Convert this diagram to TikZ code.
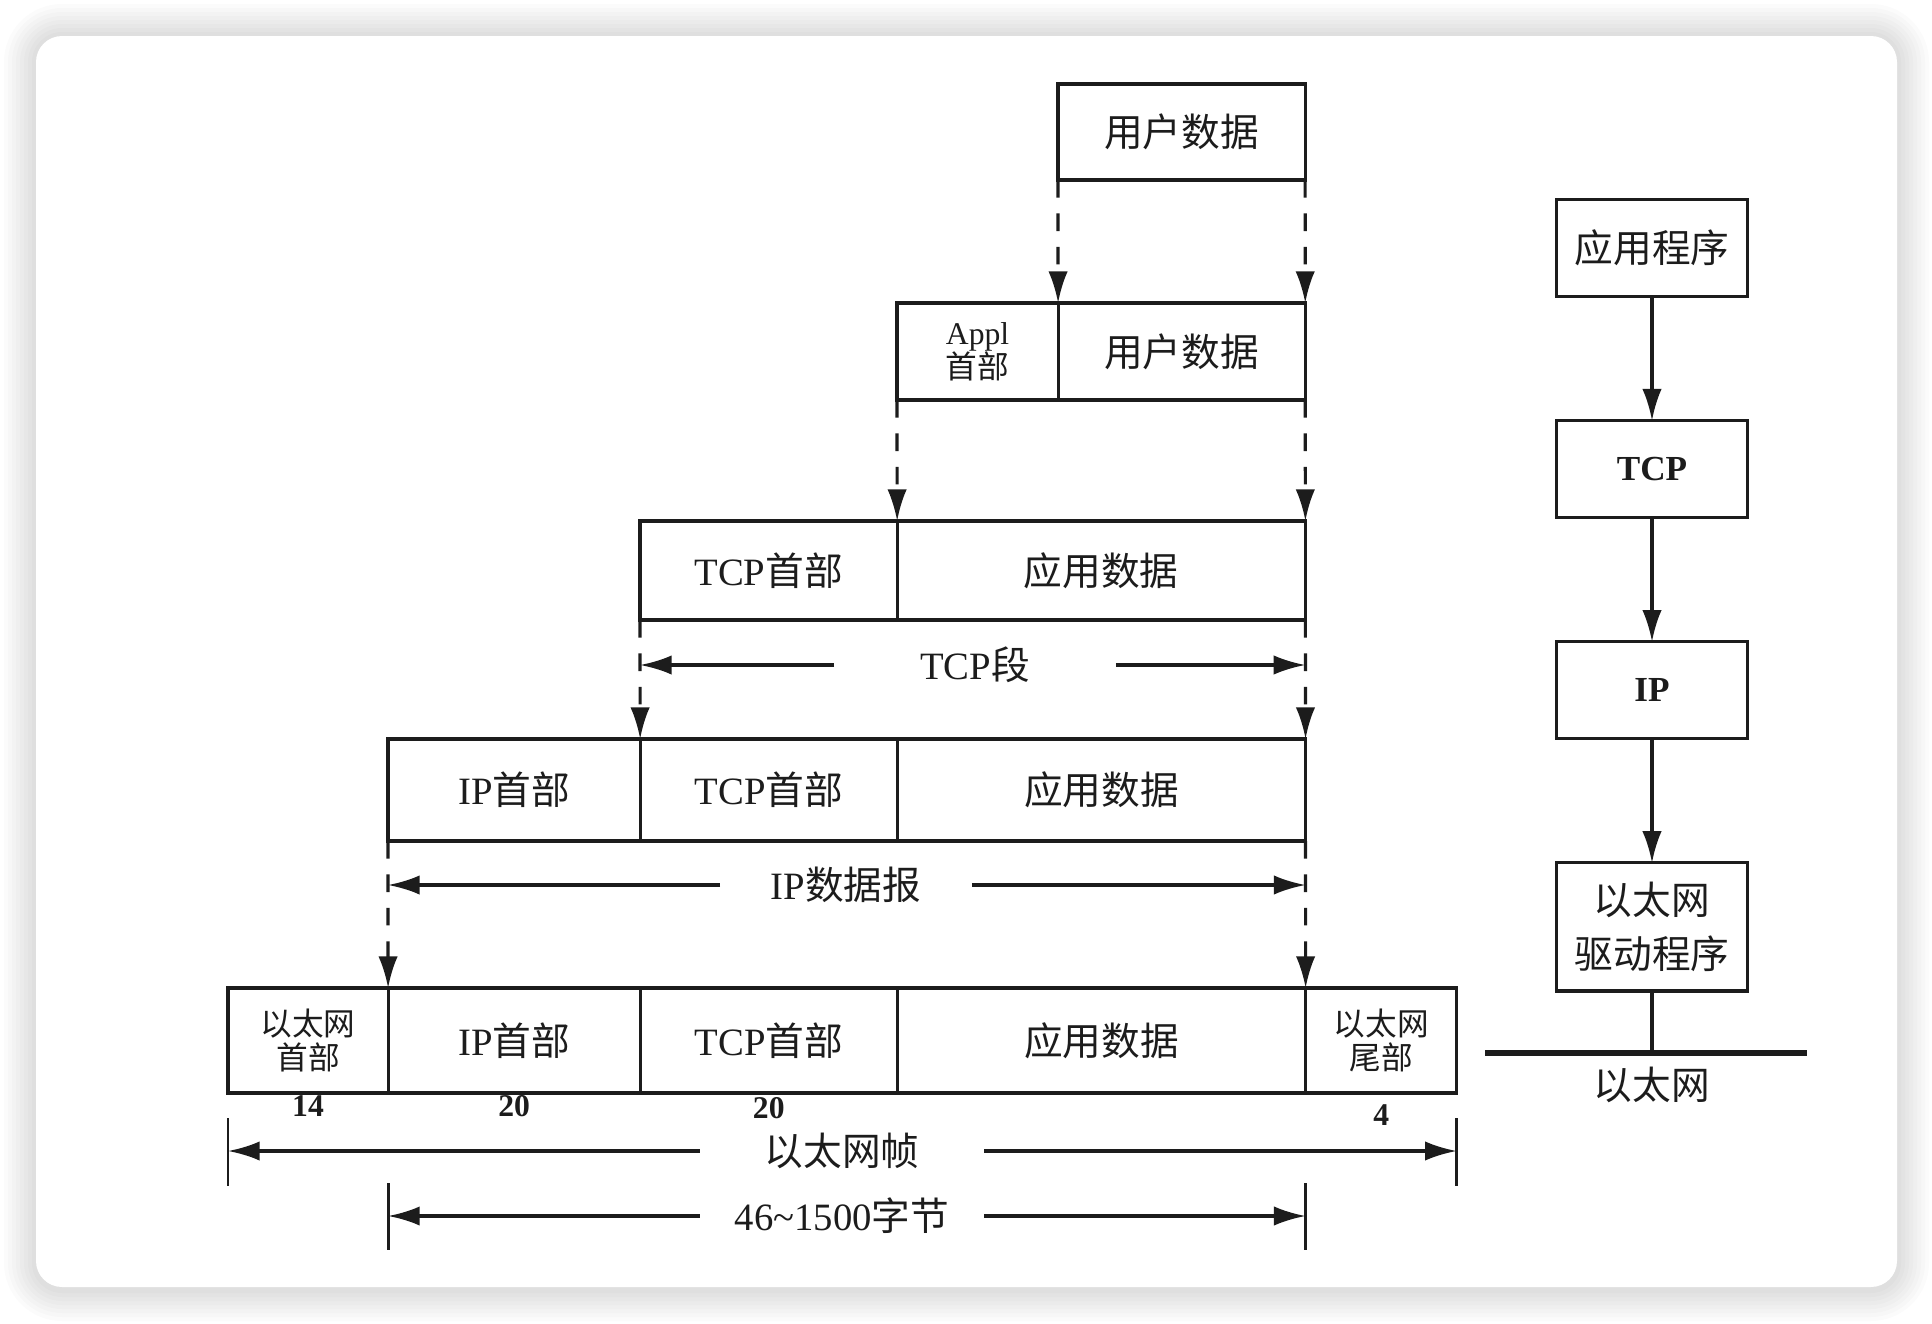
\documentclass[tikz,border=0pt]{standalone}
\usepackage{fontspec}
\setmainfont{Liberation Serif}
\newfontfamily\cjkfont{Noto Sans CJK SC}
\newcommand{\zh}[1]{{\cjkfont #1}}
\usetikzlibrary{arrows.meta, positioning, calc}
\definecolor{InkBlack}{RGB}{ 28, 28, 28}
\definecolor{PageBg}  {RGB}{255,255,255}
\tikzset{
  % One field of a packet row
  pktfield/.style={
    rectangle, draw=InkBlack, line width=0.9pt,
    font=\fontsize{11}{13}\selectfont, text=InkBlack,
    inner sep=1pt, outer sep=0pt, minimum height=0.97cm,
    align=center
  },
  % Two-line narrow field
  smallfont/.style={font=\fontsize{9}{9.6}\selectfont},
  % Protocol layer box (right column)
  layerbox/.style={
    rectangle, draw=InkBlack, line width=0.9pt,
    font=\fontsize{11}{15.5}\selectfont, text=InkBlack,
    inner sep=2pt, outer sep=0pt,
    minimum width=1.91cm, minimum height=0.97cm, align=center
  },
  % Encapsulation arrows
  dasharrow/.style={
    -{Latex[length=9pt,width=5.5pt]}, dash pattern=on 5pt off 4.5pt,
    line width=0.9pt, color=InkBlack
  },
  % Length arrows
  dimarrow/.style={
    -{Latex[length=9pt,width=5.5pt]}, line width=0.9pt, color=InkBlack
  },
  dimlabel/.style={
    font=\fontsize{11}{13}\selectfont, text=InkBlack,
    inner sep=0pt, minimum height=0.4cm
  },
  sizenum/.style={
    font=\bfseries\fontsize{9}{9}\selectfont, text=InkBlack, inner sep=0pt
  },
  tickline/.style={line width=0.8pt, color=InkBlack},
  layerarrow/.style={
    -{Latex[length=9pt,width=5.5pt]}, line width=0.9pt, color=InkBlack
  },
  ethline/.style={line width=1.8pt, color=InkBlack}
}
\newcommand{\Cell}[4]{
  \node[pktfield, minimum width=#2, #4] (#1) {#3};
}

\begin{document}
\begin{tikzpicture}[x=0.01cm, y=-0.01cm]

  % ── Page and card ─────────────────────────────────────────────────────────
  \useasboundingbox (0,0) rectangle (1932,1324);
  \fill[PageBg] (0,0) rectangle (1932,1324);
  \foreach \d in {4,8,...,32} {
    \pgfmathsetmacro\rr{0.26+0.01*\d}
    \fill[black, fill opacity=0.016, rounded corners=\rr cm]
      ({36-\d},{36-\d}) rectangle ({1897+\d},{1289+\d});
  }
  \fill[white, rounded corners=0.26cm] (36,36) rectangle (1897,1287);

  % ── Row 1: user data ──────────────────────────────────────────────────────
  \Cell{usr}{2.47cm}{\zh{用户数据}}{anchor=north west, at={(1058,84)}, minimum height=0.96cm}

  % ── Row 2: application ────────────────────────────────────────────────────
  \Cell{applh}{1.61cm}{Appl\\\zh{首部}}{smallfont, anchor=north west, at={(897,303)}}
  \Cell{appld}{2.47cm}{\zh{用户数据}}{right=0pt of applh}

  % ── Row 3: TCP segment ────────────────────────────────────────────────────
  \Cell{tcph}{2.57cm}{TCP\zh{首部}}{anchor=north west, at={(640,521)}, minimum height=0.99cm}
  \Cell{tcpd}{4.08cm}{\zh{应用数据}}{right=0pt of tcph, minimum height=0.99cm}

  % ── Row 4: IP datagram ────────────────────────────────────────────────────
  \Cell{iph}{2.52cm}{IP\zh{首部}}{anchor=north west, at={(388,739)}, minimum height=1.02cm}
  \Cell{iptcp}{2.57cm}{TCP\zh{首部}}{right=0pt of iph, minimum height=1.02cm}
  \Cell{ipd}{4.08cm}{\zh{应用数据}}{right=0pt of iptcp, minimum height=1.02cm}

  % ── Row 5: Ethernet frame ─────────────────────────────────────────────────
  \Cell{ethh}{1.60cm}{\zh{以太网}\\\zh{首部}}{smallfont, anchor=north west, at={(228,988)}, minimum height=1.05cm}
  \Cell{ethip}{2.52cm}{IP\zh{首部}}{right=0pt of ethh, minimum height=1.05cm}
  \Cell{ethtcp}{2.57cm}{TCP\zh{首部}}{right=0pt of ethip, minimum height=1.05cm}
  \Cell{ethd}{4.08cm}{\zh{应用数据}}{right=0pt of ethtcp, minimum height=1.05cm}
  \Cell{etht}{1.51cm}{\zh{以太网}\\\zh{尾部}}{smallfont, right=0pt of ethd, minimum height=1.05cm}

  % field sizes
  \node[sizenum, below=0.5pt of ethh] (n14) {14};
  \node[sizenum, below=0.5pt of ethip] (n20a) {20};
  \node[sizenum, below=1pt of ethtcp] (n20b) {20};
  \node[sizenum, below=3pt of etht] (n4) {4};

  % ── Encapsulation arrows ──────────────────────────────────────────────────
  \draw[dasharrow] (usr.south west) -- (appld.north west);
  \draw[dasharrow] (usr.south east) -- (appld.north east);
  \draw[dasharrow] (applh.south west) -- (tcpd.north west);
  \draw[dasharrow] (appld.south east) -- (tcpd.north east);
  \draw[dasharrow] (tcph.south west) -- (iptcp.north west);
  \draw[dasharrow] (tcpd.south east) -- (ipd.north east);
  \draw[dasharrow] (iph.south west) -- (ethip.north west);
  \draw[dasharrow] (ipd.south east) -- (ethd.north east);

  % ── Lengths ───────────────────────────────────────────────────────────────
  \node[dimlabel, minimum width=2.8cm] (tcpseg) at (975,665) {TCP\zh{段}};
  \draw[dimarrow] (tcpseg) -- (tcpseg -| tcph.west);
  \draw[dimarrow] (tcpseg) -- (tcpseg -| tcpd.east);

  \node[dimlabel, minimum width=2.5cm] (ipdg) at (846,885) {IP\zh{数据报}};
  \draw[dimarrow] (ipdg) -- (ipdg -| iph.west);
  \draw[dimarrow] (ipdg) -- (ipdg -| ipd.east);

  \node[dimlabel, minimum width=2.83cm] (frame) at (842,1151) {\zh{以太网帧}};
  \draw[dimarrow] (frame) -- (frame -| ethh.west);
  \draw[dimarrow] (frame) -- (frame -| etht.east);
  \draw[tickline] ([yshift=-0.25cm]ethh.south west) -- ++(0,68);
  \draw[tickline] ([yshift=-0.25cm]etht.south east) -- ++(0,68);

  \node[dimlabel, minimum width=2.83cm] (payload) at (842,1216)
        {46\char`~1500\zh{字节}};
  \draw[dimarrow] (payload) -- (payload -| ethip.west);
  \draw[dimarrow] (payload) -- (payload -| ethd.east);
  \draw[tickline] ([yshift=-0.90cm]ethip.south west) -- ++(0,67);
  \draw[tickline] ([yshift=-0.90cm]ethd.south east) -- ++(0,67);

  % ── Protocol stack (right column) ─────────────────────────────────────────
  \node[layerbox] (app) at (1652,248) {\zh{应用程序}};
  \node[layerbox, below=1.24cm of app, font=\bfseries\fontsize{10}{12}\selectfont] (tcp) {TCP};
  \node[layerbox, below=1.24cm of tcp, font=\bfseries\fontsize{10}{12}\selectfont] (ip) {IP};
  \node[layerbox, below=1.24cm of ip, minimum height=1.28cm] (drv)
        {\zh{以太网}\\\zh{驱动程序}};

  \draw[layerarrow] (app) -- (tcp);
  \draw[layerarrow] (tcp) -- (ip);
  \draw[layerarrow] (ip) -- (drv);

  % Ethernet bus
  \coordinate (ethL) at (1485,1053);
  \coordinate (ethR) at (1807,1053);
  \coordinate (ethM) at (drv.south |- ethL);
  \draw[ethline] (ethL) -- (ethR);
  \draw[line width=0.9pt, color=InkBlack] (drv) -- (ethM);
  \node[dimlabel, inner sep=3.7pt, below=0pt of ethM] (ethlbl) {\zh{以太网}};

\end{tikzpicture}
\end{document}
